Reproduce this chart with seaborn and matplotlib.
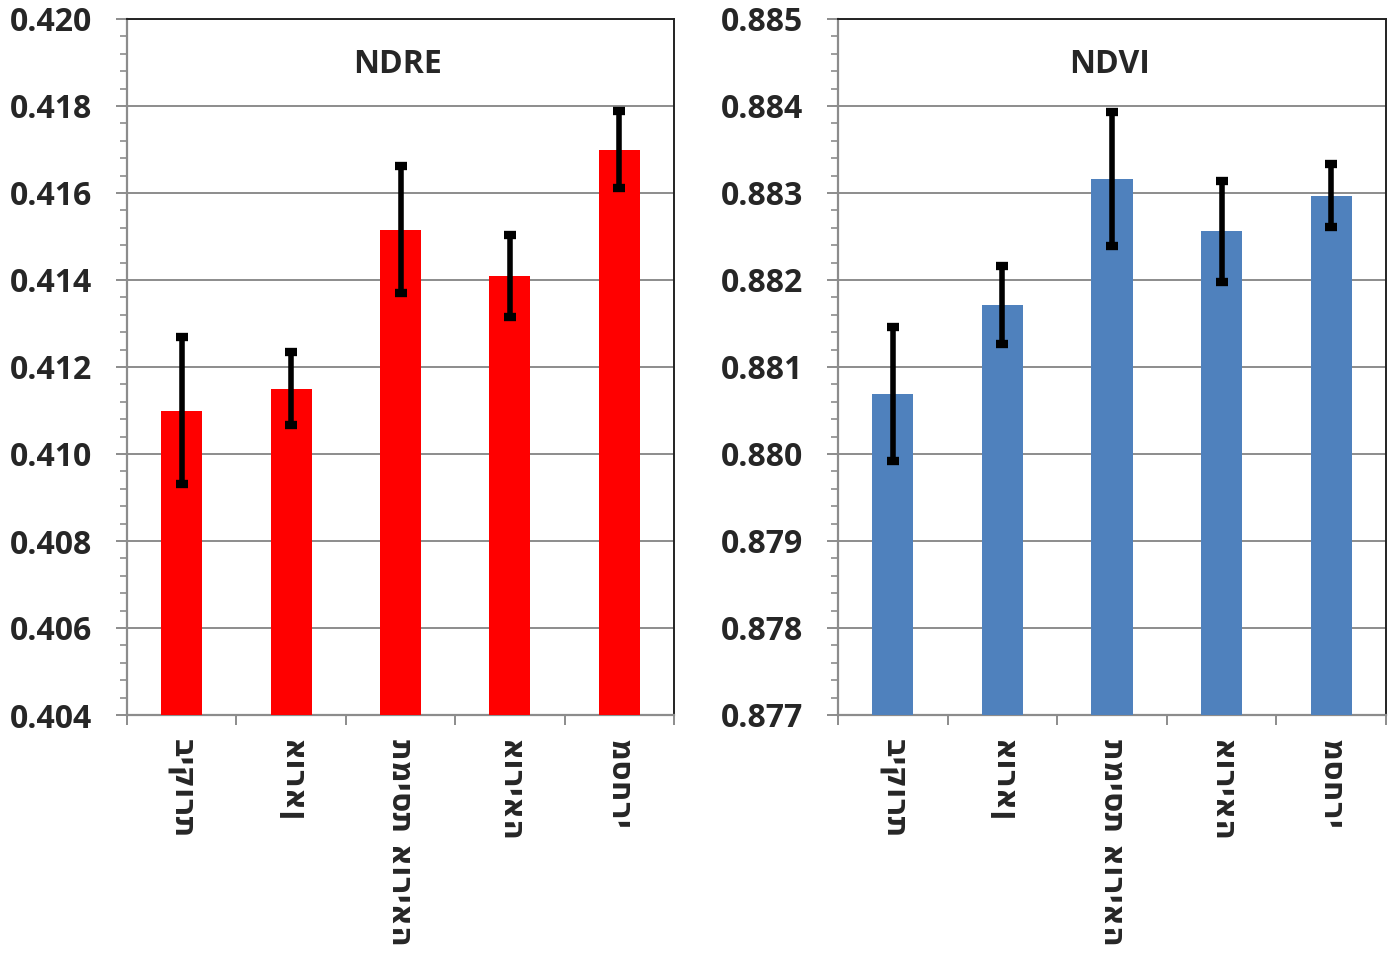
import numpy as np
import pandas as pd
import matplotlib
matplotlib.use("Agg")
import matplotlib.pyplot as plt
from matplotlib.ticker import MultipleLocator, FormatStrFormatter
import seaborn as sns

categories = ["ביקורת", "אוראן", "תמיסת אוריאה", "אוריאה", "מסחרי"]
ndre_mean = [0.4110, 0.4115, 0.41515, 0.4141, 0.4170]
ndre_err = [0.00168, 0.00084, 0.00146, 0.00094, 0.00088]
ndvi_mean = [0.88069, 0.88171, 0.88316, 0.88256, 0.88297]
ndvi_err = [0.00077, 0.00045, 0.00077, 0.00058, 0.00036]

sns.set_theme(style="white")
FAM = ["Open Sans", "DejaVu Sans"]
HEB = ["DejaVu Sans"]
plt.rcParams["font.family"] = FAM
plt.rcParams["font.weight"] = "bold"

fig = plt.figure(figsize=(13.95, 9.57), dpi=100)
ax1 = fig.add_axes([127 / 1395, 1 - 715 / 957, 547 / 1395, 696 / 957])
ax2 = fig.add_axes([838 / 1395, 1 - 715 / 957, 548 / 1395, 696 / 957])

panels = [
    (ax1, ndre_mean, ndre_err, "#FF0000", "NDRE", (0.404, 0.420), 0.002, "%.3f"),
    (ax2, ndvi_mean, ndvi_err, "#4F81BD", "NDVI", (0.877, 0.885), 0.001, "%.3f"),
]

for ax, means, errs, color, title, ylim, major, fmt in panels:
    df = pd.DataFrame({"cat": categories, "val": means})
    sns.barplot(data=df, x="cat", y="val", color=color, saturation=1,
                width=0.375, ax=ax, zorder=3, edgecolor="none")
    ax.errorbar(np.arange(len(categories)), means, yerr=errs, fmt="none",
                ecolor="black", elinewidth=4, capsize=4.5, capthick=6, zorder=4)
    ax.set_ylim(*ylim)
    ax.set_xlim(-0.5, len(categories) - 0.5)
    ax.yaxis.set_major_locator(MultipleLocator(major))
    ax.yaxis.set_minor_locator(MultipleLocator(major / 5))
    ax.yaxis.set_major_formatter(FormatStrFormatter(fmt))
    ax.grid(axis="y", which="major", color="#8c8c8c", linewidth=1.4, zorder=0)
    ax.grid(axis="x", visible=False)
    ax.set_xlabel("")
    ax.set_ylabel("")
    ax.set_xticks(np.arange(len(categories)))
    ax.set_xticklabels(categories, rotation=-90, fontsize=22, fontweight="bold",
                       family=HEB, va="top", ha="center")
    ax.tick_params(axis="x", which="major", length=0, pad=17)
    ax.set_xticks(np.arange(len(categories) + 1) - 0.5, minor=True)
    ax.tick_params(axis="x", which="minor", direction="out", length=7,
                   color="#8c8c8c", width=1.4, bottom=True)
    ax.tick_params(axis="y", which="major", direction="out", length=8,
                   color="#8c8c8c", width=1.4, left=True, labelsize=23, pad=17)
    ax.tick_params(axis="y", which="minor", direction="out", length=5,
                   color="#8c8c8c", width=1.2, left=True)
    for lbl in ax.get_yticklabels():
        lbl.set_fontweight("bold")
        lbl.set_family(FAM)
    for s in ["left", "bottom"]:
        ax.spines[s].set_color("#8c8c8c")
        ax.spines[s].set_linewidth(1.6)
    for s in ["top", "right"]:
        ax.spines[s].set_visible(True)
        ax.spines[s].set_color("#222222")
        ax.spines[s].set_linewidth(1.4)
    ax.set_title("")
    ax.text(0.495, 0.935, title, transform=ax.transAxes, ha="center",
            va="center", fontsize=23, fontweight="bold", family=FAM)

fig.savefig("out.png", dpi=100, facecolor="white")
